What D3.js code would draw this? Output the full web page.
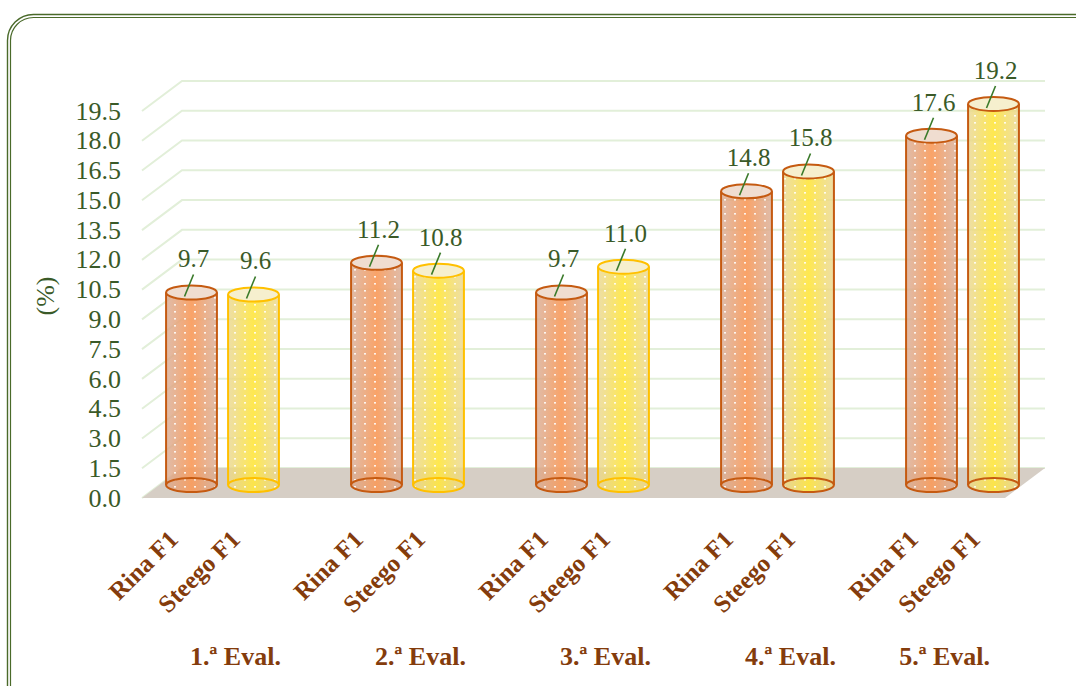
<!DOCTYPE html>
<html>
<head>
<meta charset="utf-8">
<script src="https://cdn.jsdelivr.net/npm/d3@7"></script>
<style>
  body { margin: 0; background: #fff; }
  svg text { font-family: "Liberation Serif", "Times New Roman", serif; }
</style>
</head>
<body>
<svg id="chart" width="1076" height="686"></svg>
<script>
// data
let groups = ["1.ª Eval.", "2.ª Eval.", "3.ª Eval.", "4.ª Eval.", "5.ª Eval."];
let series = ["Rina F1", "Steego F1"];
let rinaValues = [9.7, 11.2, 9.7, 14.8, 17.6];
let steegoValues = [9.6, 10.8, 11.0, 15.8, 19.2];
let yTicks = [0, 1.5, 3, 4.5, 6, 7.5, 9, 10.5, 12, 13.5, 15, 16.5, 18, 19.5];

let svg = d3.select("#chart");
let defs = svg.append("defs");

// 3d depth offsets (front -> back)
let depthX = 40, depthY = -30;
let frontLeft = 142, backRight = 1045;

// front plane y scale
let yScale = d3.scaleLinear().domain([0, 19.5]).range([498, 111]);
// bars sit in the middle of the depth
let barY = v => yScale(v) - 13;

// groups and series scales
let xGroup = d3.scaleBand().domain(groups).range([130, 1055]);
let xSeries = d3.scaleBand().domain(series).range([-62, 62]);
let barW = xSeries.bandwidth() * 0.82;
let rx = barW / 2, ry = 7;

// outer rounded border (double line)
svg.append("rect")
	.attr("x", 7.5).attr("y", 14.5).attr("width", 1100).attr("height", 700)
	.attr("rx", 26).attr("fill", "none").attr("stroke", "#4a6a2a").attr("stroke-width", 1.4);
svg.append("rect")
	.attr("x", 10.5).attr("y", 17.5).attr("width", 1100).attr("height", 700)
	.attr("rx", 23).attr("fill", "none").attr("stroke", "#4a6a2a").attr("stroke-width", 1.2);

// grid lines on side wall + back wall
let grid = svg.append("g").attr("class", "grid");
grid.selectAll("polyline")
	.data(yTicks)
	.enter().append("polyline")
	.attr("points", d => {
		let y = yScale(d);
		return [[frontLeft, y], [frontLeft + depthX, y + depthY], [backRight, y + depthY]].join(" ");
	})
	.attr("fill", "none")
	.attr("stroke", "#e2efd9")
	.attr("stroke-width", 2);

// floor
let y0 = yScale(0);
svg.append("polygon")
	.attr("points", [[frontLeft, y0], [frontLeft + depthX, y0 + depthY],
		[backRight, y0 + depthY], [backRight - depthX, y0]].join(" "))
	.attr("fill", "#d6cec5");

// y axis labels
svg.append("g").selectAll("text")
	.data(yTicks)
	.enter().append("text")
	.attr("x", 121)
	.attr("y", d => yScale(d))
	.attr("dy", "0.33em")
	.attr("text-anchor", "end")
	.style("font-size", "26px")
	.style("fill", "#3a5a28")
	.text(d => d3.format(".1f")(d));

svg.append("text")
	.attr("transform", "translate(54,296) rotate(-90)")
	.attr("text-anchor", "middle")
	.style("font-size", "26px")
	.style("fill", "#3a5a28")
	.text("(%)");

// gradients + dotted pattern
function grad(id, edge, mid) {
	let g = defs.append("linearGradient").attr("id", id).attr("x1", "0").attr("x2", "1").attr("y1", "0").attr("y2", "0");
	g.append("stop").attr("offset", "0%").attr("stop-color", edge).attr("stop-opacity", 0.8);
	g.append("stop").attr("offset", "50%").attr("stop-color", mid).attr("stop-opacity", 0.92);
	g.append("stop").attr("offset", "100%").attr("stop-color", edge).attr("stop-opacity", 0.8);
}
grad("gradRina", "#d8ab93", "#f99b5b");
grad("gradSteego", "#e9d690", "#ffe640");

let pat = defs.append("pattern").attr("id", "dots")
	.attr("patternUnits", "userSpaceOnUse").attr("width", 10).attr("height", 7);
pat.append("rect").attr("x", 4).attr("y", 3).attr("width", 2).attr("height", 1.6)
	.attr("fill", "#fff").attr("opacity", 0.85);

let barData = [];
groups.forEach((g, i) => {
	barData.push({ group: g, gi: i, s: series[0], v: rinaValues[i] });
	barData.push({ group: g, gi: i, s: series[1], v: steegoValues[i] });
});

let cx = d => xGroup(d.group) + xGroup.bandwidth() / 2 + xSeries(d.s) + xSeries.bandwidth() / 2;
let strokeOf = d => (d.s === series[0] || d.gi >= 3) ? "#c55a11" : "#ffc000";

let bars = svg.append("g").selectAll("g")
	.data(barData)
	.enter().append("g")
	.attr("class", "cyl");

function bodyPath(d) {
	let x = cx(d), top = barY(d.v), bot = barY(0);
	return "M" + (x - rx) + "," + top + " L" + (x - rx) + "," + bot +
		" A" + rx + "," + ry + " 0 0 0 " + (x + rx) + "," + bot +
		" L" + (x + rx) + "," + top +
		" A" + rx + "," + ry + " 0 0 1 " + (x - rx) + "," + top + " Z";
}

// body
bars.append("path")
	.attr("d", bodyPath)
	.attr("fill", d => d.s === series[0] ? "url(#gradRina)" : "url(#gradSteego)");

bars.append("path")
	.attr("d", bodyPath)
	.attr("fill", "url(#dots)");

// bottom ellipse (seen through)
bars.append("ellipse")
	.attr("cx", cx).attr("cy", barY(0)).attr("rx", rx).attr("ry", ry)
	.attr("fill", "none").attr("stroke", strokeOf).attr("stroke-width", 2);

// sides
bars.append("path")
	.attr("d", d => {
		let x = cx(d), top = barY(d.v), bot = barY(0);
		return "M" + (x - rx) + "," + top + " L" + (x - rx) + "," + bot +
			" M" + (x + rx) + "," + top + " L" + (x + rx) + "," + bot;
	})
	.attr("fill", "none").attr("stroke", strokeOf).attr("stroke-width", 2);

// top ellipse
bars.append("ellipse")
	.attr("cx", cx).attr("cy", d => barY(d.v)).attr("rx", rx).attr("ry", ry)
	.attr("fill", d => d.s === series[0] ? "#f0ddd0" : "#f6efce")
	.attr("stroke", strokeOf).attr("stroke-width", 2);

// value labels with leader lines
bars.append("line")
	.attr("x1", d => cx(d) - 7).attr("y1", d => barY(d.v) + 4)
	.attr("x2", d => cx(d) + 2).attr("y2", d => barY(d.v) - 18)
	.attr("stroke", "#3a7a2a").attr("stroke-width", 1.6);

bars.append("text")
	.attr("x", d => cx(d) + 2)
	.attr("y", d => barY(d.v) - 25)
	.attr("text-anchor", "middle")
	.style("font-size", "25px")
	.style("fill", "#3a5a28")
	.text(d => d3.format(".1f")(d.v));

// series labels (rotated)
svg.append("g").selectAll("text")
	.data(barData)
	.enter().append("text")
	.attr("transform", d => "translate(" + (cx(d) - 12) + ",541) rotate(-45)")
	.attr("text-anchor", "end")
	.style("font-size", "25px")
	.style("font-weight", "bold")
	.style("fill", "#843c0c")
	.text(d => d.s);

// group labels
svg.append("g").selectAll("text")
	.data(groups)
	.enter().append("text")
	.attr("y", 665)
	.attr("text-anchor", "middle")
	.style("font-size", "26px")
	.style("font-weight", "bold")
	.style("fill", "#843c0c")
	.text(d => d)
	.each(function(d) {
		let w = this.getComputedTextLength();
		let x = Math.min(xGroup(d) + xGroup.bandwidth() / 2 + 13, 990 - w / 2);
		d3.select(this).attr("x", x);
	});
</script>
</body>
</html>
